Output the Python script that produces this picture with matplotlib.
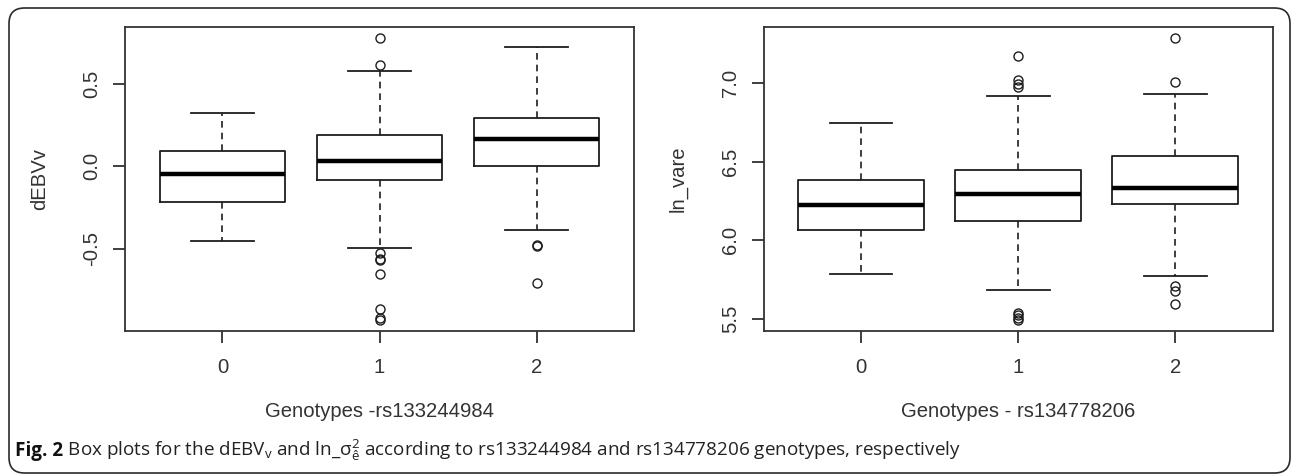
import matplotlib
matplotlib.use("Agg")
import matplotlib.pyplot as plt
from matplotlib.patches import FancyBboxPatch

# ---------------- data ----------------
genotypes = ["0", "1", "2"]

# Left panel: dEBVv by rs133244984 genotype
debv_med = [-0.045, 0.032, 0.166]
debv_q1 = [-0.219, -0.085, 0.000]
debv_q3 = [0.093, 0.188, 0.294]
debv_whislo = [-0.451, -0.492, -0.389]
debv_whishi = [0.324, 0.573, 0.721]
debv_fliers = [[],
               [0.777, 0.611, -0.528, -0.559, -0.567, -0.650, -0.862, -0.919, -0.929],
               [-0.474, -0.484, -0.704]]
debv_yticks = [-0.5, 0.0, 0.5]

# Right panel: ln_vare by rs134778206 genotype
lnv_med = [6.225, 6.293, 6.334]
lnv_q1 = [6.062, 6.121, 6.227]
lnv_q3 = [6.382, 6.446, 6.533]
lnv_whislo = [5.783, 5.683, 5.775]
lnv_whishi = [6.748, 6.914, 6.928]
lnv_fliers = [[],
              [7.173, 7.016, 6.990, 6.973, 5.537, 5.522, 5.507, 5.494],
              [7.287, 7.007, 5.711, 5.679, 5.594]]
lnv_yticks = [5.5, 6.0, 6.5, 7.0]

ylabels = ["dEBVv", "ln_vare"]
xlabels = ["Genotypes -rs133244984", "Genotypes - rs134778206"]
caption_bold = "Fig. 2"
caption_rest = (r" Box plots for the dEBV$_\mathrm{v}$ and ln_$\mathrm{\sigma}^{2}_{\mathrm{ê}}$"
                " according to rs133244984 and rs134778206 genotypes, respectively")

# ---------------- style ----------------
plt.rcParams['axes.unicode_minus'] = False
plt.rcParams['mathtext.fontset'] = 'custom'
plt.rcParams['mathtext.rm'] = 'Open Sans'
plt.rcParams['mathtext.it'] = 'Open Sans:italic'
plt.rcParams['mathtext.bf'] = 'Open Sans:bold'

LINE = '#1e1e1e'
TXT = '#333333'
RFONT = ['Liberation Sans', 'DejaVu Sans']
FS = 14.6

W, H = 1292, 474
fig = plt.figure(figsize=(W / 100, H / 100), dpi=100)

def fx(px):
    return px / W

def fy(py):
    return 1 - py / H

panels = [
    dict(ax=[fx(125), fy(331), fx(634) - fx(125), fy(26.5) - fy(331)],
         med=debv_med, q1=debv_q1, q3=debv_q3, lo=debv_whislo, hi=debv_whishi,
         fl=debv_fliers, yt=debv_yticks),
    dict(ax=[fx(763.5), fy(331), fx(1272.7) - fx(763.5), fy(26.5) - fy(331)],
         med=lnv_med, q1=lnv_q1, q3=lnv_q3, lo=lnv_whislo, hi=lnv_whishi,
         fl=lnv_fliers, yt=lnv_yticks),
]

for i, p in enumerate(panels):
    ax = fig.add_axes(p['ax'])
    stats = []
    for k in range(len(genotypes)):
        stats.append(dict(med=p['med'][k], q1=p['q1'][k], q3=p['q3'][k],
                          whislo=p['lo'][k], whishi=p['hi'][k],
                          fliers=p['fl'][k], label=genotypes[k]))
    ax.bxp(stats, positions=[1, 2, 3], widths=0.8, capwidths=0.4,
           boxprops=dict(color=LINE, linewidth=1.3),
           medianprops=dict(color='black', linewidth=3.2, solid_capstyle='butt'),
           whiskerprops=dict(color=LINE, linewidth=1.2, linestyle=(0, (4, 3))),
           capprops=dict(color=LINE, linewidth=1.3),
           flierprops=dict(marker='o', markersize=6.5, markerfacecolor='none',
                           markeredgecolor=LINE, markeredgewidth=1.0))
    # R-style limits: 4% extension of data range
    allv = p['lo'] + p['hi'] + [v for f in p['fl'] for v in f]
    vmin, vmax = min(allv), max(allv)
    pad = 0.04 * (vmax - vmin)
    ax.set_ylim(vmin - pad, vmax + pad)
    ax.set_xlim(0.38, 3.62)
    ax.set_yticks(p['yt'])
    ax.set_yticklabels([f"{v:.1f}" for v in p['yt']], rotation=90, va='center',
                       family=RFONT, fontsize=FS, color=TXT)
    ax.set_xticks([1, 2, 3])
    ax.set_xticklabels(genotypes, family=RFONT, fontsize=FS, color=TXT)
    ax.tick_params(axis='both', length=8.6, width=1.2, color=LINE)
    ax.tick_params(axis='x', pad=10.5)
    ax.tick_params(axis='y', pad=8.5)
    for s in ax.spines.values():
        s.set_linewidth(1.3)
        s.set_color('#333333')
    ax.text(-0.167, 0.5, ylabels[i], transform=ax.transAxes, rotation=90,
            ha='center', va='center', family=RFONT, fontsize=FS, color=TXT)
    ax.text(0.5, -0.265, xlabels[i], transform=ax.transAxes,
            ha='center', va='center', family=RFONT, fontsize=FS, color=TXT)

# caption
cap_y = fy(456)
t1 = fig.text(fx(15), cap_y, caption_bold, family=['Open Sans', 'DejaVu Sans'],
              fontweight='bold', fontsize=13.6, color='#111111', va='baseline')
fig.canvas.draw()
bb = t1.get_window_extent()
fig.text(bb.x1 / W, cap_y, caption_rest, family=['Open Sans', 'DejaVu Sans'],
         fontsize=13.6, color='#222222', va='baseline')

# rounded border
border = FancyBboxPatch((fx(9), fy(473)), fx(1290) - fx(9), fy(8) - fy(473),
                        boxstyle="round,pad=0,rounding_size=0.012",
                        transform=fig.transFigure, fill=False,
                        edgecolor='#2a2a2a', linewidth=1.2, mutation_aspect=W / H)
fig.add_artist(border)

fig.savefig("out.png", dpi=100, facecolor='white')
